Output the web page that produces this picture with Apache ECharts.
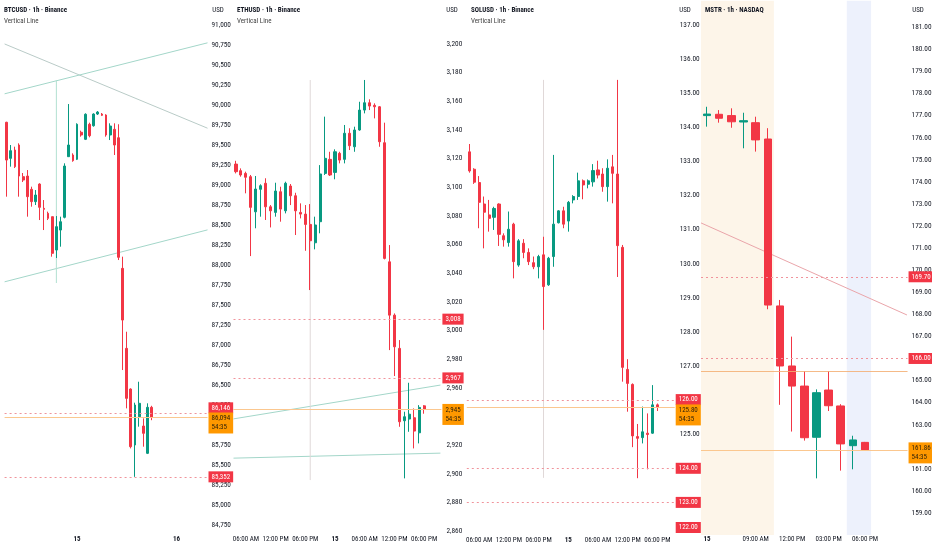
<!DOCTYPE html>
<html><head><meta charset="utf-8">
<script src="https://cdn.jsdelivr.net/npm/echarts@6/dist/echarts.min.js"></script>
<style>html,body{margin:0;padding:0;background:#fff}#c{width:932px;height:550px}</style>
</head><body><div id="c"></div>
<script>
const FONT = "'Roboto Condensed','Liberation Sans',Arial,sans-serif";

// ---------- categories (day hour) ----------
const btcTimes = ['14 07','14 08','14 09','14 10','14 11','14 12','14 13','14 14','14 15','14 16','14 17','14 18','14 19','14 20','14 21','14 22','14 23',
 '15 00','15 01','15 02','15 03','15 04','15 05','15 06','15 07','15 08','15 09','15 10','15 11','15 12','15 13','15 14','15 15','15 16','15 17','15 18','15 19','15 20','15 21','15 22','15 23',
 '16 00','16 01','16 02','16 03','16 04','16 05','16 06','16 07'];
const cryptoTimes = ['14 04','14 05','14 06','14 07','14 08','14 09','14 10','14 11','14 12','14 13','14 14','14 15','14 16','14 17','14 18','14 19','14 20','14 21','14 22','14 23',
 '15 00','15 01','15 02','15 03','15 04','15 05','15 06','15 07','15 08','15 09','15 10','15 11','15 12','15 13','15 14','15 15','15 16','15 17','15 18','15 19','15 20','15 21'];
const mstrTimes = ['15 05','15 06','15 07','15 08','15 09','15 10','15 11','15 12','15 13','15 14','15 15','15 16','15 17','15 18','15 19','15 20','15 21'];

// ---------- tick labels ----------
const btcTickAt = ['15 00','16 00'];
const btcTickText = ['15','16'];
const cryptoTickAt = ['14 06','14 12','14 18','15 00','15 06','15 12','15 18'];
const cryptoTickText = ['06:00 AM','12:00 PM','06:00 PM','15','06:00 AM','12:00 PM','06:00 PM'];
const mstrTickAt = ['15 05','15 09','15 12','15 15','15 18'];
const mstrTickText = ['15','09:00 AM','12:00 PM','03:00 PM','06:00 PM'];

// ---------- candles [open, close, low, high] ----------
const btcCandles = [
 [89784,89312,88854,89790],[89333,89429,89229,89500],[89437,89229,89212,89479],[89500,89112,88854,89521],
 [89104,89062,89037,89150],[89112,88854,88604,89187],[88946,88792,88729,88979],[88792,88875,88750,88937],
 [89012,88721,88562,89021],[88708,88696,88437,88812],[88646,88583,88562,88667],[88604,88146,88104,88604],
 [88187,88479,88087,88612],[88437,88541,88229,88604],[88596,89237,88583,89271],[89354,89500,89354,90012],
 [89375,89304,89291,89396],[89321,89759,89312,89771],[89659,89625,89604,89679],[89571,89884,89562,89896],
 [89759,89616,89596,89779],[89741,89887,89729,89896],[89887,89912,89875,89925],[89887,89871,89862,89900],
 [89875,89625,89604,89884],[89625,89737,89562,89771],[89696,89500,89375,89771],[89591,88096,88062,89759],
 [87958,87312,86687,88104],[86958,86333,86208,87166],[86450,85729,85708,86458],[85750,86250,85352,86279],
 [86104,86271,85979,86541],[85987,85896,85729,86083],[85646,86221,85637,86271],[86221,86094,86060,86240]
];
const ethCandles = [
 [3116.2,3110.9,3109.7,3118.5],[3111.6,3108.6,3107.4,3113.2],[3109.7,3107.0,3095.8,3110.9],[3107.4,3086.0,3052.0,3108.6],
 [3082.9,3098.8,3071.4,3107.9],[3098.6,3101.1,3079.5,3102.1],[3102.8,3086.4,3077.2,3106.3],[3086.4,3083.6,3072.0,3087.6],
 [3082.5,3097.4,3079.5,3103.2],[3096.9,3084.8,3076.0,3100.4],[3083.6,3102.8,3081.8,3103.9],[3100.9,3094.1,3087.6,3102.3],
 [3094.1,3083.6,3066.7,3096.2],[3082.5,3081.3,3078.3,3088.8],[3081.3,3074.1,3055.7,3087.6],[3074.1,3062.7,3028.3,3088.3],
 [3061.3,3073.7,3056.7,3079.5],[3076.0,3109.3,3067.9,3115.5],[3109.7,3120.2,3108.6,3149.3],[3119.5,3108.6,3107.9,3124.8],
 [3110.4,3124.8,3105.6,3126.5],[3123.7,3119.0,3116.7,3124.8],[3119.5,3137.7,3116.7,3143.5],[3137.7,3129.0,3126.0,3141.2],
 [3128.3,3140.0,3124.8,3142.3],[3140.0,3153.9,3139.5,3159.7],[3153.9,3159.0,3151.6,3174.9],[3159.0,3156.7,3153.9,3161.4],
 [3157.2,3156.2,3148.1,3158.6],[3156.2,3131.8,3128.3,3156.7],[3131.1,3050.4,3049.7,3145.1],[3048.0,3010.8,2986.4,3059.7],
 [3010.8,2988.7,2968.3,3012.0],[2987.6,2936.4,2932.9,2993.4],[2937.1,2939.9,2896.9,2943.4],[2938.3,2941.7,2929.4,2963.6],
 [2939.2,2929.9,2917.8,2945.7],[2928.7,2946.4,2921.3,2948.0],[2947.5,2945.0,2942.0,2948.0]
];
const solCandles = [
 [133.28,132.72,132.67,133.51],[132.77,132.39,132.34,132.80],[132.38,131.80,131.04,132.57],[131.75,131.51,130.45,131.97],
 [131.43,131.33,130.94,131.87],[131.36,131.62,130.99,131.67],[131.75,130.86,130.52,131.77],[130.82,130.70,130.50,130.89],
 [130.62,131.01,130.50,131.53],[131.16,130.06,129.57,131.20],[129.96,130.67,129.91,130.72],[130.60,130.33,130.16,130.72],
 [130.33,130.06,129.96,130.45],[130.03,129.91,129.84,130.21],[129.91,130.21,129.57,130.26],[130.26,129.33,128.06,130.79],
 [129.38,130.16,129.35,130.20],[130.21,131.16,129.91,133.19],[131.20,131.55,131.18,131.57],[131.55,131.16,131.04,131.67],
 [131.25,131.80,130.94,131.84],[131.87,131.97,131.77,132.01],[131.97,132.43,131.87,132.67],[132.43,132.31,131.89,132.47],
 [132.33,132.43,132.21,132.47],[132.40,132.73,132.26,132.92],[132.75,132.60,132.50,133.02],[132.63,132.26,132.11,132.80],
 [132.26,132.80,131.82,133.06],[132.84,132.65,131.77,133.19],[132.63,130.53,129.61,135.39],[130.48,126.96,126.54,130.55],
 [126.90,126.49,125.66,127.20],[126.46,124.95,124.62,126.49],[124.93,124.88,123.71,125.30],[124.90,125.07,124.73,125.81],
 [125.03,124.99,123.97,125.61],[125.03,125.86,125.01,126.44],[125.86,125.80,125.68,125.90]
];
const mstrCandles = [
 [177.00,177.07,176.50,177.40],[177.06,176.88,176.68,177.25],[177.00,176.72,176.45,177.33],[176.71,176.77,175.52,177.13],
 [176.68,175.90,175.37,176.95],[175.94,168.42,168.23,176.43],[168.38,165.66,163.90,168.65],[165.66,164.75,162.69,166.99],
 [164.75,162.41,162.28,165.43],[162.43,164.45,160.57,164.60],[164.57,163.86,163.62,165.43],[163.85,162.13,160.92,163.93],
 [162.05,162.31,160.98,162.50],[162.20,161.86,161.84,162.22]
];

// ---------- price levels ----------
const btcAlerts = [86146, 85352];
const btcLast = 86094;
const ethAlerts = [3008, 2967];
const ethLast = 2945;
const solAlerts = [126, 124, 123];
const solHiddenAlerts = [122];
const solLast = 125.80;
const mstrAlerts = [169.70, 166.00];
const mstrLast = 161.86;
const mstrLevels = [165.4];
const countdown = '54:35';

// ---------- drawings [bar index, price] ----------
const btcLineA = [[-0.5, 90763], [48.5, 89710]];
const btcLineB = [[-0.5, 90140], [48.5, 90777]];
const btcLineC = [[-0.5, 87790], [48.5, 88439]];
const btcVert = [[12, 90312], [12, 87775]];
const ethLineD = [[-0.5, 2938.4], [41.3, 2962]];
const ethLineE = [[-0.5, 2911], [41.3, 2914.5]];
const ethVert = [[15, 3174.9], [15, 2895.7]];
const solVert = [[15, 135.39], [15, 123.72]];
const mstrLine = [[-0.5, 172.14], [16.45, 167.97]];
const mstrPreMarket = [-0.5, 5.5];
const mstrPostMarket = [11.5, 13.5];

// ---------- axes ranges ----------
const btcY = {min: 84750, max: 91250, interval: 250, labelMax: 91000};
const ethY = {min: 2860, max: 3220, interval: 20, labelMax: 3200};
const solY = {min: 122, max: 137.6, interval: 1, labelMax: 137};
const mstrY = {min: 158, max: 182.2, interval: 1, labelMax: 181};

const fmtK = v => Number(v).toLocaleString('en-US');
const fmt2 = v => Number(v).toFixed(2);

const UP = '#089981', DOWN = '#f23645', ORANGE = '#ff9800';
const TXT = '#131722';

const panels = [
 {title:'BTCUSD · 1h · Binance', sub:true, times:btcTimes, tickAt:btcTickAt, tickText:btcTickText, candles:btcCandles,
  alerts:btcAlerts, alertShift:[-5.5, 0], hidden:[], last:btcLast, lastShift:5.5, levels:[], y:btcY, fmt:fmtK, showMin:true,
  grid:{left:4.6, top:5, width:202.9, height:520}, bw:2.3, xMargin:11, yMargin:4,
  lines:[{d:btcLineA,c:'#b9cbc7'},{d:btcLineB,c:'#a3d6c9'},{d:btcLineC,c:'#a3d6c9'},{d:btcVert,c:'#b2e0d1'}],
  titleX:4, usdX:218},
 {title:'ETHUSD · 1h · Binance', sub:true, times:cryptoTimes, tickAt:cryptoTickAt, tickText:cryptoTickText, candles:ethCandles,
  alerts:ethAlerts, alertShift:[0, 0], hidden:[], last:ethLast, lastShift:5, levels:[], y:ethY, fmt:fmtK, showMin:true,
  grid:{left:233.5, top:15.34, width:207.9, height:515.9}, bw:2.6, xMargin:5, yMargin:5,
  lines:[{d:ethLineD,c:'#a3d6c9'},{d:ethLineE,c:'#a3d6c9'},{d:ethVert,c:'#e0d8d8'}],
  titleX:237, usdX:452},
 {title:'SOLUSD · 1h · Binance', sub:true, times:cryptoTimes, tickAt:cryptoTickAt, tickText:cryptoTickText, candles:solCandles,
  alerts:solAlerts, alertShift:[-0.5, 0, 0], hidden:solHiddenAlerts, last:solLast, lastShift:8, levels:[], y:solY, fmt:fmt2, showMin:false,
  grid:{left:466.8, top:4.54, width:207.9, height:531.96}, bw:2.6, xMargin:0, yMargin:5,
  lines:[{d:solVert,c:'#e0d8d8'}],
  titleX:471, usdX:685},
 {title:'MSTR · 1h · NASDAQ', sub:false, times:mstrTimes, tickAt:mstrTickAt, tickText:mstrTickText, candles:mstrCandles,
  alerts:mstrAlerts, alertShift:[0, 0], hidden:[], last:mstrLast, lastShift:3, levels:mstrLevels, y:mstrY, fmt:fmt2, showMin:false,
  grid:{left:701, top:0.8, width:206.55, height:534.3}, bw:8, xMargin:1, yMargin:4,
  lines:[{d:mstrLine,c:'#eaa5aa'}], shade:true,
  titleX:705, usdX:918}
];

const grids = [], xAxes = [], yAxes = [], series = [], graphics = [];

function alertItem(v, fmt, visible, dy) {
  return {yAxis: v,
    lineStyle: {color: visible ? '#f0939b' : 'rgba(0,0,0,0)', type: [2, 3], width: 1},
    label: {show: true, position: 'end', distance: 1, formatter: fmt(v), backgroundColor: DOWN, color: '#fff',
      padding: [2, 3, 1, 3], fontSize: 7, fontFamily: FONT, lineHeight: 8, offset: [0, dy]}};
}

panels.forEach((p, i) => {
  grids.push(Object.assign({containLabel: false, outerBoundsMode: 'none'}, p.grid));
  xAxes.push({type: 'category', gridIndex: i, data: p.times, boundaryGap: true,
    axisLine: {show: false}, axisTick: {show: false}, splitLine: {show: false},
    axisLabel: {interval: 0, margin: p.xMargin, fontSize: 7, color: TXT, fontFamily: FONT,
      formatter: v => { const k = p.tickAt.indexOf(v); if (k < 0) return ''; const t = p.tickText[k];
        return /^\d+$/.test(t) ? '{b|' + t + '}' : t; },
      rich: {b: {fontWeight: 'bold', fontSize: 7, fontFamily: FONT, color: TXT}}}});
  xAxes.push({type: 'value', gridIndex: i, min: -0.5, max: p.times.length - 0.5, show: false});
  yAxes.push({type: 'value', gridIndex: i, position: 'right', min: p.y.min, max: p.y.max, interval: p.y.interval,
    axisLine: {show: false}, axisTick: {show: false}, splitLine: {show: false},
    axisLabel: {showMinLabel: p.showMin, showMaxLabel: false, margin: p.yMargin, fontSize: 7.3, color: TXT,
      fontFamily: FONT, formatter: v => (v > p.y.labelMax + 1e-9 ? '' : p.fmt(v))}});

  const ml = [];
  p.levels.forEach(v => ml.push({yAxis: v, lineStyle: {color: '#f3ae72', type: 'solid', width: 1, opacity: 0.85}, label: {show: false}}));
  p.alerts.forEach((v, k) => ml.push(alertItem(v, p.fmt, true, p.alertShift[k] || 0)));
  p.hidden.forEach(v => ml.push(alertItem(v, p.fmt, false, -9)));
  ml.push({yAxis: p.last, lineStyle: {color: '#fbc78f', type: 'solid', width: 1},
    label: {show: true, position: 'end', distance: 1, formatter: p.fmt(p.last) + '\n' + countdown, offset: [0, p.lastShift],
      backgroundColor: ORANGE, color: '#2a1f0a', padding: [2, 3, 1, 3], fontSize: 7, fontFamily: FONT, lineHeight: 9}});

  series.push({type: 'candlestick', xAxisIndex: 2 * i, yAxisIndex: i, data: p.candles, barWidth: p.bw, z: 3,
    itemStyle: {color: UP, color0: DOWN, borderColor: UP, borderColor0: DOWN, borderWidth: 1},
    markLine: {symbol: ['none', 'none'], silent: true, animation: false, data: ml}});

  p.lines.forEach((ln, j) => {
    const s = {type: 'line', xAxisIndex: 2 * i + 1, yAxisIndex: i, data: ln.d, symbol: 'none', silent: true,
      clip: true, z: 2, lineStyle: {color: ln.c, width: 1}};
    if (p.shade && j === 0) {
      s.markArea = {silent: true, data: [
        [{xAxis: mstrPreMarket[0], itemStyle: {color: '#fdf5e9'}}, {xAxis: mstrPreMarket[1]}],
        [{xAxis: mstrPostMarket[0], itemStyle: {color: '#edf1fc'}}, {xAxis: mstrPostMarket[1]}]
      ]};
    }
    series.push(s);
  });

  graphics.push({type: 'text', x: p.titleX, y: 10, z: 10,
    style: {text: p.title, fill: TXT, font: 'bold 7px ' + FONT, verticalAlign: 'middle', align: 'left'}});
  if (p.sub) graphics.push({type: 'text', x: p.titleX, y: 21, z: 10,
    style: {text: 'Vertical Line', fill: '#444', font: '7px ' + FONT, verticalAlign: 'middle', align: 'left'}});
  graphics.push({type: 'text', x: p.usdX, y: 10, z: 10,
    style: {text: 'USD', fill: TXT, font: '7px ' + FONT, verticalAlign: 'middle', align: 'center'}});
});

const chart = echarts.init(document.getElementById('c'), null, {renderer: 'canvas'});
chart.setOption({
  animation: false,
  backgroundColor: '#ffffff',
  textStyle: {fontFamily: FONT},
  grid: grids, xAxis: xAxes, yAxis: yAxes, series: series, graphic: graphics
});
</script></body></html>
